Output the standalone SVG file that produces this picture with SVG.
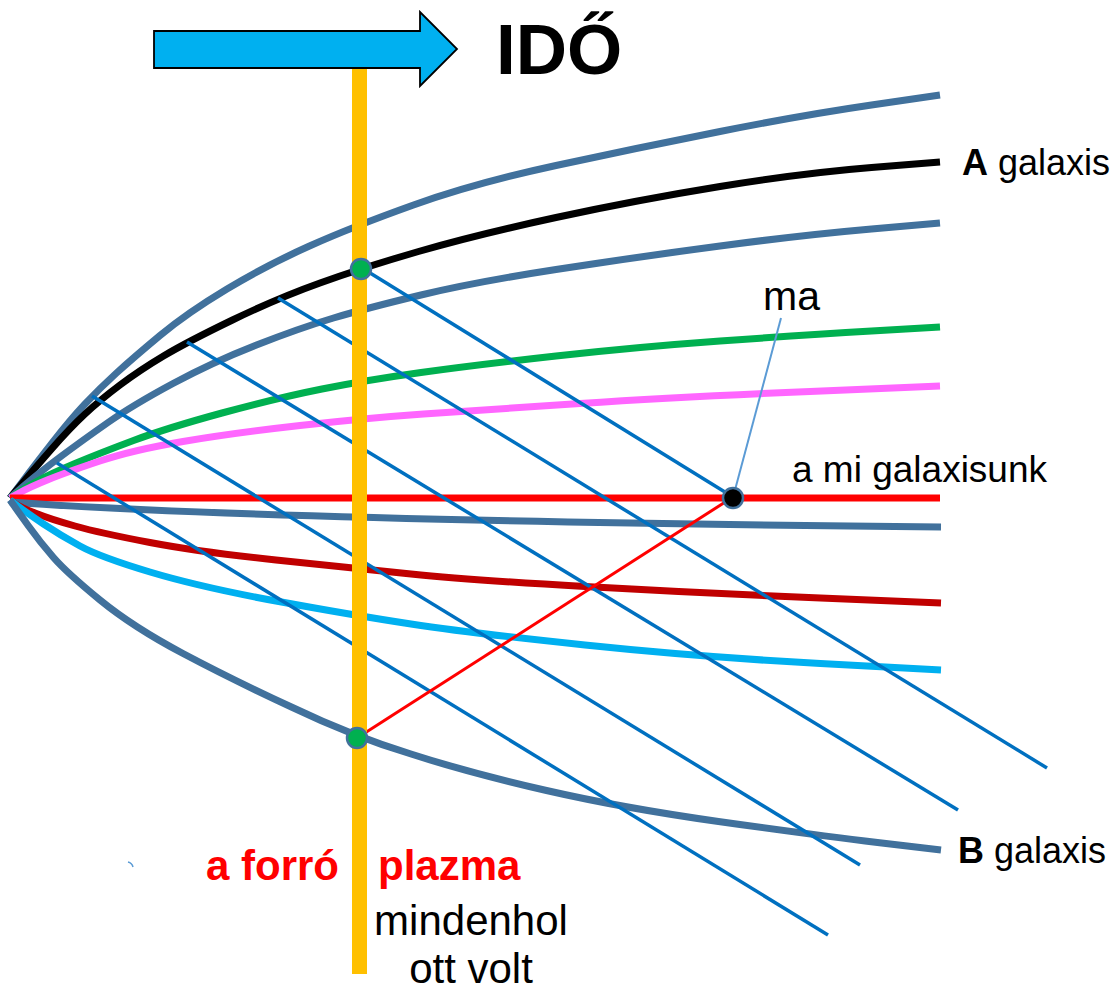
<svg xmlns="http://www.w3.org/2000/svg" width="1117" height="991" viewBox="0 0 1117 991">
<style>
.wl{fill:none;stroke-width:7;stroke-linecap:butt;stroke-linejoin:round}
.steel{stroke:#41719C}
.ray{stroke:#0070C0;stroke-width:3.5;fill:none}
.lbl{font-family:"Liberation Sans",Arial,sans-serif;fill:#000}
.red{fill:#FF0000;font-weight:bold}
.dot{stroke:#41719C;stroke-width:2.5}
</style>
<rect width="1117" height="991" fill="#fff"/>
<g id="worldlines">
<path id="wl-top" class="wl steel" d="M10,498 L22.5,481.5 Q35,465 52.5,442.5 Q70,420 85,404 Q100,388 116.5,373 Q133,358 160,335.5 Q187,313 227,289 Q267,265 309.5,246 Q352,227 413.5,205 Q475,183 556,165.5 Q637,148 720,131.5 Q803,115 871.5,105 L940,95"/>
<path id="wl-A" class="wl" stroke="#000" d="M10,498 L22.5,483 Q35,468 52.5,448 Q70,428 85,414 Q100,400 120,385 Q140,370 163.5,356 Q187,342 232.5,320 Q278,298 320,283 Q362,268 418.5,251.5 Q475,235 556,217.5 Q637,200 720,186.5 Q803,173 871.5,167.5 L940,162"/>
<path id="wl-second" class="wl steel" d="M10,498 L25,485 Q40,472 61.5,456 Q83,440 108,422.5 Q133,405 173,383.5 Q213,362 256.5,345 Q300,328 333.5,318 Q367,308 421,295 Q475,282 556,269.5 Q637,257 720,246 Q803,235 871.5,229 L940,223"/>
<path id="wl-green" class="wl" stroke="#00B050" d="M10,498 L17.5,493 Q25,488 37.5,481 Q50,474 75,463.5 Q100,453 133.5,440.5 Q167,428 222,413 Q277,398 322,389 Q367,380 421,372.5 Q475,365 556,356 Q637,347 720,341 Q803,335 871.5,331 L940,327"/>
<path id="wl-pink" class="wl" stroke="#FF66FF" d="M10,498 L20,492.5 Q30,487 48.5,479.5 Q67,472 100,461 Q133,450 183,441.5 Q233,433 300,425.5 Q367,418 423.5,414 Q480,410 580,403.5 Q680,397 810,391.5 L940,386"/>
<path id="wl-ours" class="wl" stroke="#FF0000" d="M10,498 L940,498"/>
<path id="wl-low" class="wl steel" d="M10,502 Q250,520 941,527"/>
<path id="wl-darkred" class="wl" stroke="#C00000" d="M10,500 L15,503.5 Q20,507 35,513 Q50,519 75,526 Q100,533 150,542.5 Q200,552 276,560 Q352,568 411,574 Q470,580 585,586.5 Q700,593 820.5,598 L941,603"/>
<path id="wl-lightblue" class="wl" stroke="#00B0F0" d="M10,500 L18.5,506.5 Q27,513 43.5,524 Q60,535 80,546 Q100,557 150,572 Q200,587 276,601 Q352,615 411,624 Q470,633 585,645 Q700,657 820.5,663.5 L941,670"/>
<path id="wl-B" class="wl steel" d="M10,500 L13.5,505 Q17,510 28.5,526 Q40,542 53.5,557.5 Q67,573 100,600 Q133,627 183,653.5 Q233,680 292.5,707.5 Q352,736 411,754 Q470,773 546.5,790.5 Q623,808 718.5,821.5 Q814,835 877.5,842.5 L941,850"/>
</g>
<g id="connectors">
<line class="ray" x1="362" y1="268" x2="733" y2="497"/>
<line class="ray" x1="278" y1="298" x2="1047" y2="768"/>
<line class="ray" x1="187" y1="342" x2="958" y2="810"/>
<line class="ray" x1="92" y1="396" x2="860" y2="865"/>
<line class="ray" x1="57" y1="463" x2="828" y2="935"/>
<line id="cone-red" x1="357" y1="738" x2="733" y2="497" stroke="#FF0000" stroke-width="3"/>
<line id="ma-pointer" x1="781" y1="318" x2="735" y2="490" stroke="#5B9BD5" stroke-width="2"/>
<path id="tiny-arc" d="M128,862 Q132,863 133,867" fill="none" stroke="#5B9BD5" stroke-width="1.5"/>
</g>
<g id="now-line">
<rect x="352" y="60" width="15" height="914" fill="#FFC000"/>
</g>
<g id="time-arrow">
<polygon points="154,31 420,31 420,12 457,49 420,86 420,68 154,68" fill="#00B0F0" stroke="#000" stroke-width="1.8" stroke-linejoin="miter"/>
<text class="lbl" x="496" y="74" font-size="71" font-weight="bold">IDŐ</text>
</g>
<g id="dot-A">
<circle class="dot" cx="361" cy="269" r="10" fill="#00B050"/>
</g>
<g id="dot-B">
<circle class="dot" cx="357" cy="738" r="10" fill="#00B050"/>
</g>
<g id="dot-ma">
<circle class="dot" cx="733" cy="498" r="10" fill="#000"/>
</g>
<g id="labels">
<text class="lbl" x="962" y="175" font-size="36"><tspan font-weight="bold">A</tspan> galaxis</text>
<text class="lbl" x="958" y="863" font-size="36"><tspan font-weight="bold">B</tspan> galaxis</text>
<text class="lbl" x="763" y="310" font-size="41">ma</text>
<text class="lbl" x="792" y="482" font-size="37">a mi galaxisunk</text>
<text class="lbl red" x="206" y="880" font-size="42">a forró</text>
<text class="lbl red" x="378" y="880" font-size="42">plazma</text>
<text class="lbl" x="471" y="935" font-size="42" text-anchor="middle">mindenhol</text>
<text class="lbl" x="471" y="983" font-size="42" text-anchor="middle">ott volt</text>
</g>
</svg>
